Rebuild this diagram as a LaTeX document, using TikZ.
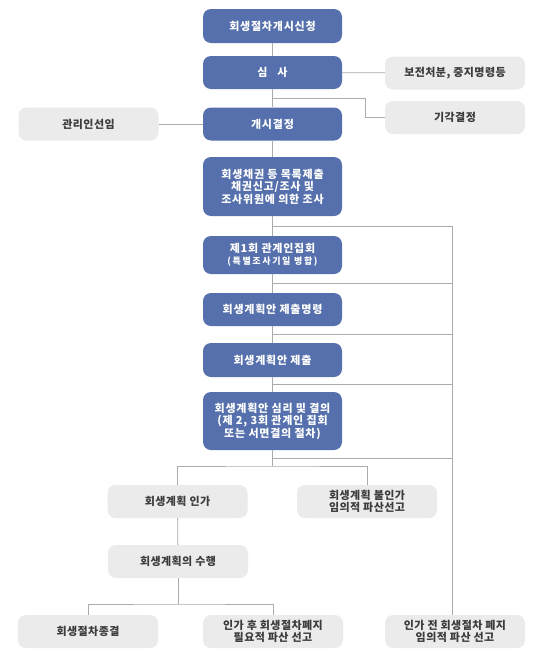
\documentclass[tikz,border=0pt]{standalone}
\usepackage{fontspec}
\setmainfont{Noto Sans CJK KR}
\newfontfamily\bluefont{Noto Sans CJK KR}[LetterSpace=7]
\newfontfamily\grayfont{Noto Sans CJK KR}[LetterSpace=4]
\newfontfamily\smallfont{Noto Sans CJK KR}[LetterSpace=18]
\begin{document}
\begin{tikzpicture}[x=1pt,y=-1pt,
  bluebox/.style={rectangle, rounded corners=8pt, fill=boxblue, draw=none, text=white,
    minimum width=139pt, align=center, font=\bluefont\fontsize{11}{12.5}\selectfont\bfseries, inner sep=2pt},
  graybox/.style={rectangle, rounded corners=8pt, fill=boxgray, draw=none, text=txtgray,
    minimum width=140pt, minimum height=33pt, align=center, font=\grayfont\fontsize{11}{12.5}\selectfont\bfseries, inner sep=2pt},
  conn/.style={draw=linegray, line width=0.8pt}]
\definecolor{boxblue}{HTML}{5570AC}
\definecolor{boxgray}{HTML}{EBEBEB}
\definecolor{txtgray}{HTML}{3C3C3C}
\definecolor{linegray}{HTML}{ABABAB}
\useasboundingbox (0,0) rectangle (540,651);
\fill[white] (0,0) rectangle (540,651);

% blue main boxes
\node[bluebox, minimum height=34pt] (b1) at (272.5,26) {회생절차개시신청};
\node[bluebox, minimum height=33pt] (b2) at (272.5,72.5) {심\hspace{0.9em}사};
\node[bluebox, minimum height=33pt] (b3) at (272.5,124) {개시결정};
\node[bluebox, minimum height=59pt] (b4) at (272.5,186.5) {회생채권 등 목록제출\\채권신고/조사 및\\조사위원에 의한 조사};
\node[bluebox, minimum height=38pt] (b5) at (272.5,255) {제1회 관계인집회\\{\smallfont\fontsize{9}{10.5}\selectfont\bfseries (특별조사기일 병합)}};
\node[bluebox, minimum height=33pt] (b6) at (272.5,309.5) {회생계획안 제출명령};
\node[bluebox, minimum height=34pt] (b7) at (272.5,360) {회생계획안 제출};
\node[bluebox, minimum height=58pt] (b8) at (272.5,421) {회생계획안 심리 및 결의\\(제 2, 3회 관계인 집회\\또는 서면결의 절차)};

% gray boxes
\node[graybox] (g1) at (455,73) {보전처분, 중지명령등};
\node[graybox] (g2) at (455,117.5) {기각결정};
\node[graybox] (g3) at (88.5,124) {관리인선임};
\node[graybox] (g4) at (177.5,501.5) {회생계획 인가};
\node[graybox] (g5) at (367,501.5) {회생계획 불인가\\임의적 파산선고};
\node[graybox] (g6) at (178,561.5) {회생계획의 수행};
\node[graybox] (g7) at (88,631.5) {회생절차종결};
\node[graybox] (g8) at (273,631.5) {인가 후 회생절차폐지\\필요적 파산 선고};
\node[graybox] (g9) at (455,631.5) {인가 전 회생절차 폐지\\임의적 파산 선고};

% helper coordinates
\coordinate (k1) at (272.5,98);
\coordinate (k2) at (365,98);
\coordinate (rtop) at (452,226);
\coordinate (h1) at (272.5,226);
\coordinate (h2) at (272.5,283);
\coordinate (h3) at (272.5,334);
\coordinate (h4) at (272.5,384);
\coordinate (h5) at (272.5,458);
\coordinate (s1) at (272.5,466);
\coordinate (s2) at (178,604);

% main spine
\draw[conn] (b1) -- (b2);
\draw[conn] (b2) -- (b3);
\draw[conn] (b3) -- (b4);
\draw[conn] (b4) -- (b5);
\draw[conn] (b5) -- (b6);
\draw[conn] (b6) -- (b7);
\draw[conn] (b7) -- (b8);
\draw[conn] (b8.south) -- (s1);

% side branches
\draw[conn] (b2) -- (g1);
\draw[conn] (k1) -- (k2) |- (g2);
\draw[conn] (g3) -- (b3);

% right collector line
\draw[conn] (rtop) -- (g9.north -| rtop);
\draw[conn] (h1) -- (h1 -| rtop);
\draw[conn] (h2) -- (h2 -| rtop);
\draw[conn] (h3) -- (h3 -| rtop);
\draw[conn] (h4) -- (h4 -| rtop);
\draw[conn] (h5) -- (h5 -| rtop);

% lower tree
\draw[conn] (g4.north) |- (s1) -| (g5.north);
\draw[conn] (g4) -- (g6);
\draw[conn] (g6.south) -- (s2);
\draw[conn] (g7.north) |- (s2) -| (g8.north);
\end{tikzpicture}
\end{document}
